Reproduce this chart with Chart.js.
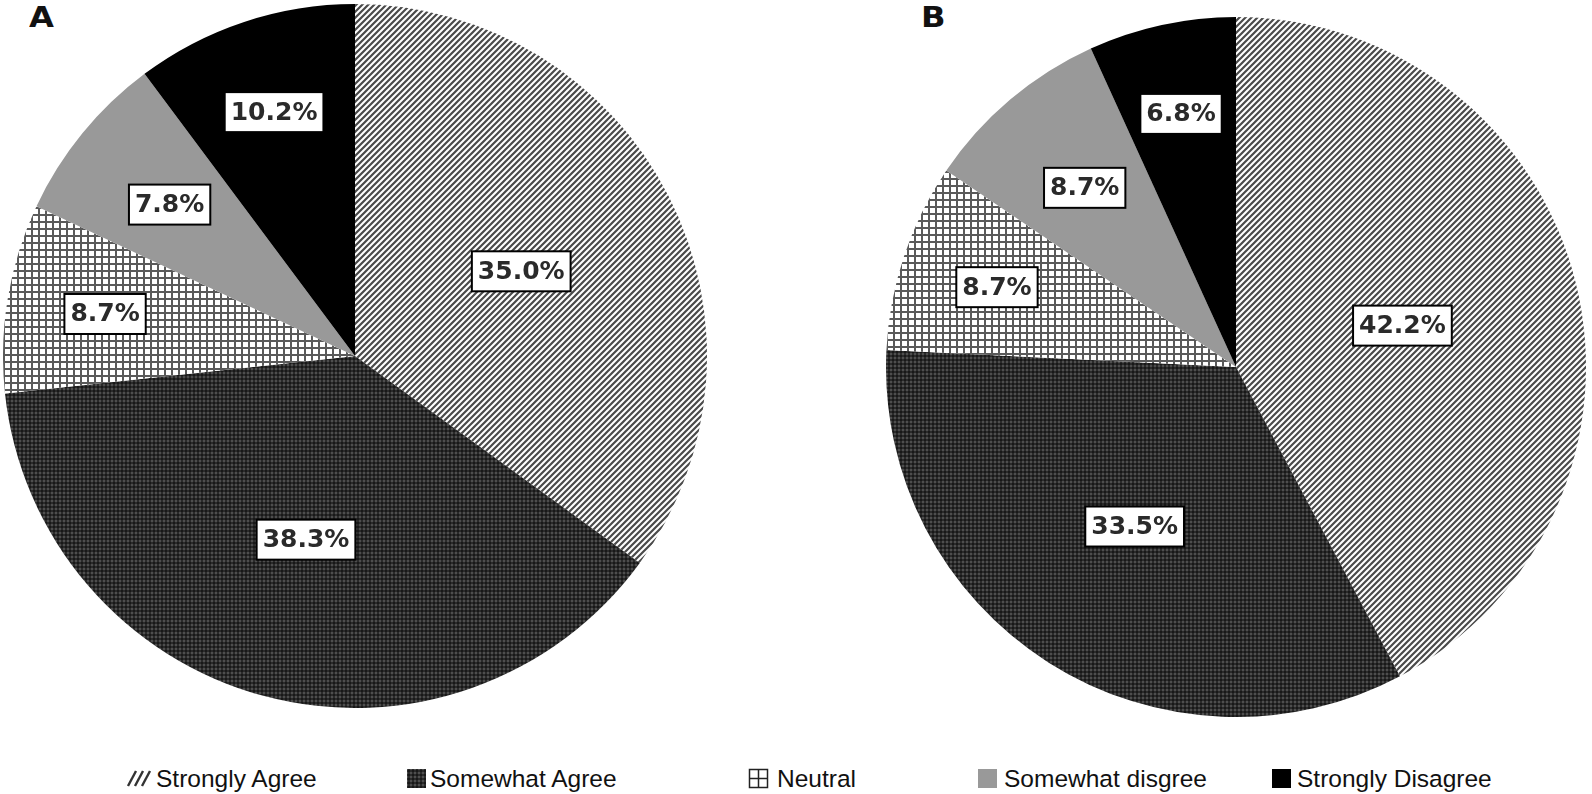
<!DOCTYPE html>
<html lang="en">
<head>
    <meta charset="UTF-8">
    <title>Agreement Pie Charts</title>
    <script src="https://cdn.jsdelivr.net/npm/chart.js"></script>
    <style>
        body { margin: 0; background: #fff; width: 1592px; height: 794px; position: relative; overflow: hidden; }
        .panel { position: absolute; }
        .tag { position: absolute; font: bold 28px "DejaVu Sans", sans-serif; line-height: 28px; color: #111;
               transform: scaleX(1.15); transform-origin: left top; }
        .legend-icon { position: absolute; top: 768px; }
        .legend-text { position: absolute; top: 765px; line-height: 26px;
                       font: 24.5px "Liberation Sans", Arial, sans-serif; color: #111; white-space: nowrap; }
    </style>
</head>
<body>
    <div class="tag" style="left:29px; top:4px;">A</div>
    <div class="tag" style="left:921px; top:4px;">B</div>

    <div class="panel" style="left:3px; top:4px; width:704px; height:704px;">
        <canvas id="pieA"></canvas>
    </div>
    <div class="panel" style="left:886px; top:17px; width:700px; height:700px;">
        <canvas id="pieB"></canvas>
    </div>

    <div id="legend"></div>

    <script>
        // Data (percent of respondents)
        const categories = ['Strongly Agree', 'Somewhat Agree', 'Neutral', 'Somewhat disgree', 'Strongly Disagree'];
        const panelA = [35.0, 38.3, 8.7, 7.8, 10.2];
        const panelB = [42.2, 33.5, 8.7, 8.7, 6.8];

        // how far out (fraction of radius) each box label sits
        const labelPosA = [0.53, 0.54, 0.72, 0.68, 0.73];
        const labelPosB = [0.49, 0.54, 0.72, 0.67, 0.74];

        // legend layout (px)
        const legendIconLeft = [126, 406, 748, 977, 1271];
        const legendTextLeft = [156, 430, 777, 1004, 1297];

        function makeFill(kind, ctxOut) {
            const c = document.createElement('canvas');
            const g = c.getContext('2d');
            if (kind === 'stripes') {
                c.width = 6; c.height = 6;
                g.fillStyle = '#fff'; g.fillRect(0, 0, 6, 6);
                g.strokeStyle = '#4a4a4a'; g.lineWidth = 2.2;
                g.beginPath();
                g.moveTo(-1, 7); g.lineTo(7, -1);
                g.moveTo(-4, 4); g.lineTo(4, -4);
                g.moveTo(2, 10); g.lineTo(10, 2);
                g.stroke();
            } else if (kind === 'dots') {
                c.width = 4; c.height = 4;
                g.fillStyle = '#2a2a2a'; g.fillRect(0, 0, 4, 4);
                g.fillStyle = '#4e4e4e'; g.fillRect(0, 0, 2, 2);
                g.fillStyle = '#181818'; g.fillRect(2, 2, 2, 2);
            } else if (kind === 'grid') {
                c.width = 7; c.height = 7;
                g.fillStyle = '#fff'; g.fillRect(0, 0, 7, 7);
                g.fillStyle = '#5a5a5a';
                g.fillRect(0, 0, 7, 2);
                g.fillRect(0, 0, 2, 7);
            }
            return (ctxOut || g).createPattern(c, 'repeat');
        }

        const boxLabels = {
            id: 'boxLabels',
            afterDatasetsDraw(chart, args, opts) {
                const ctx = chart.ctx;
                const meta = chart.getDatasetMeta(0);
                const values = chart.data.datasets[0].data;
                ctx.save();
                ctx.font = 'bold 25px "DejaVu Sans", sans-serif';
                ctx.textAlign = 'center';
                ctx.textBaseline = 'middle';
                meta.data.forEach((arc, i) => {
                    const p = arc.getProps(['x', 'y', 'startAngle', 'endAngle', 'outerRadius'], true);
                    const mid = (p.startAngle + p.endAngle) / 2;
                    const r = p.outerRadius * opts.positions[i];
                    const cx = p.x + Math.cos(mid) * r;
                    const cy = p.y + Math.sin(mid) * r;
                    const text = values[i].toFixed(1) + '%';
                    const w = ctx.measureText(text).width + 12;
                    const h = 40;
                    ctx.fillStyle = '#fff';
                    ctx.fillRect(cx - w / 2, cy - h / 2, w, h);
                    ctx.lineWidth = 2;
                    ctx.strokeStyle = '#000';
                    ctx.strokeRect(cx - w / 2, cy - h / 2, w, h);
                    ctx.fillStyle = '#2a2a2a';
                    ctx.fillText(text, cx, cy + 1);
                });
                ctx.restore();
            }
        };

        function fillsFor() {
            return [makeFill('stripes'), makeFill('dots'), makeFill('grid'), '#999999', '#000000'];
        }

        function initializeChart(canvasId, values, positions) {
            const ctx = document.getElementById(canvasId).getContext('2d');
            return new Chart(ctx, {
                type: 'pie',
                data: {
                    labels: categories,
                    datasets: [{
                        data: values,
                        backgroundColor: fillsFor(),
                        borderWidth: 0,
                        hoverOffset: 0,
                        offset: 0
                    }]
                },
                options: {
                    responsive: true,
                    maintainAspectRatio: false,
                    animation: false,
                    events: [],
                    layout: { padding: 0 },
                    plugins: {
                        legend: { display: false },
                        tooltip: { enabled: false },
                        boxLabels: { positions: positions }
                    }
                },
                plugins: [boxLabels]
            });
        }

        function drawLegendIcon(c, i) {
            const g = c.getContext('2d');
            const s = c.height;
            if (i === 0) {
                g.strokeStyle = '#333'; g.lineWidth = 2.4;
                for (let k = 0; k < 3; k++) {
                    g.beginPath();
                    g.moveTo(2 + k * 7, s - 3);
                    g.lineTo(10 + k * 7, 3);
                    g.stroke();
                }
            } else if (i === 1) {
                g.fillStyle = makeFill('dots', g);
                g.fillRect(1, 1, s - 2, s - 2);
            } else if (i === 2) {
                g.fillStyle = '#fff'; g.fillRect(1, 1, s - 2, s - 2);
                g.strokeStyle = '#222'; g.lineWidth = 1.5;
                g.strokeRect(1.5, 1.5, s - 3, s - 3);
                g.beginPath();
                g.moveTo(s / 2, 1); g.lineTo(s / 2, s - 1);
                g.moveTo(1, s / 2); g.lineTo(s - 1, s / 2);
                g.stroke();
            } else {
                g.fillStyle = i === 3 ? '#999999' : '#000000';
                g.fillRect(1, 1, s - 2, s - 2);
            }
        }

        function buildLegend() {
            const box = document.getElementById('legend');
            categories.forEach((name, i) => {
                const icon = document.createElement('canvas');
                icon.className = 'legend-icon';
                icon.width = i === 0 ? 26 : 21;
                icon.height = 21;
                icon.style.left = legendIconLeft[i] + 'px';
                drawLegendIcon(icon, i);
                const label = document.createElement('div');
                label.className = 'legend-text';
                label.style.left = legendTextLeft[i] + 'px';
                label.textContent = name;
                box.appendChild(icon);
                box.appendChild(label);
            });
        }

        initializeChart('pieA', panelA, labelPosA);
        initializeChart('pieB', panelB, labelPosB);
        buildLegend();
    </script>
</body>
</html>
